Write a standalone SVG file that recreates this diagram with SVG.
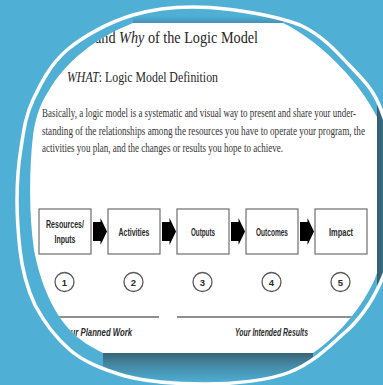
<svg xmlns="http://www.w3.org/2000/svg" width="383" height="385" viewBox="0 0 383 385">
  <defs>
    <path id="ringShape" d="M210,7.5 C237.8,9.3 276.3,15.9 300,25 C323.7,36 338.2,53.5 352,68 C365.8,82.5 375.3,91.7 383,115 C390.7,134.3 400,168.7 400,196 C400,223.3 393.2,252.5 383,277 C372.8,301.5 358,322 342,335 C326,350 310,364 290,372 C268,381 232,384 205,384 C178,384 148,382 125,376 C102,369 84,362 70,350 C56,338 44,322 35,305 C27,288 22,268 20,250 C18,232 17,217 17,200 C17,183 18.3,164.7 21,148 C23.7,131.3 25.3,116.3 33,100 C40.7,83.7 50.3,64.2 67,50 C83.7,35.8 109.2,22.1 133,15 C156.8,7.9 182.2,5.7 210,7.5 Z"/>
    <path id="pageShape" d="M133,23 H283 C315,38 358,78 377,117 V273 C368,300 340,335 313,353 H103 C91,347 79,340 71,331 C58,318 42,292 34,250 C29,215 29,170 33,135 C37,110 43,100 48,92 C65,62 95,38 133,23 Z"/>
    <clipPath id="lens"><use href="#ringShape"/></clipPath>
    <clipPath id="pageClip"><use href="#pageShape"/></clipPath>
    <linearGradient id="shB" x1="0" y1="0" x2="0" y2="1">
      <stop offset="0" stop-color="#3a6374"/>
      <stop offset="0.35" stop-color="#43859f"/>
      <stop offset="1" stop-color="#4fafd5"/>
    </linearGradient>
    <linearGradient id="shR" x1="0" y1="0" x2="1" y2="0">
      <stop offset="0" stop-color="#335d6f"/>
      <stop offset="1" stop-color="#3d7a92"/>
    </linearGradient>
    <linearGradient id="shT" x1="0" y1="0" x2="0" y2="1">
      <stop offset="0" stop-color="#4fafd5"/>
      <stop offset="1" stop-color="#4792b5"/>
    </linearGradient>
    <path id="arr" d="M0,-9.5 H7.5 V-13.5 L14,0 L7.5,13.5 V9.5 H0 Z"/>
  </defs>
  <style>
    .bx{fill:#ffffff;stroke:#6e6e6e;stroke-width:1.2}
    .bl{font-family:"Liberation Sans Narrow","Liberation Sans",Arial,sans-serif;font-weight:bold;font-size:10.5px;fill:#2a2a2a;text-anchor:middle}
    .nc{fill:#ffffff;stroke:#5a5a5a;stroke-width:1.3}
    .num{font-family:"Liberation Sans Narrow","Liberation Sans",Arial,sans-serif;font-weight:bold;font-size:9.5px;fill:#2a2a2a;text-anchor:middle}
    .ser{font-family:"Liberation Serif","Times New Roman",serif;fill:#262626}
    .para{font-size:11.5px;fill:#353535}
    .arrow{fill:#000000}
    .rule{stroke:#6a6a6a;stroke-width:1.5;fill:none}
    .foot{font-family:"Liberation Sans Narrow","Liberation Sans",Arial,sans-serif;font-weight:bold;font-style:italic;font-size:10px;fill:#2a2a2a}
  </style>
  <rect x="0" y="0" width="383" height="385" fill="#4fafd5"/>
  <g clip-path="url(#lens)">
    <rect x="133" y="16" width="150" height="7" fill="url(#shT)"/>
    <rect x="103" y="353" width="210" height="30" fill="url(#shB)"/>
    <rect x="377" y="100" width="10" height="253" fill="url(#shR)"/>
    <use href="#pageShape" fill="#ffffff"/>
  </g>
  <g clip-path="url(#pageClip)">
    <g id="header">
      <text class="ser" x="95" y="43" font-size="17" textLength="163" lengthAdjust="spacingAndGlyphs">and <tspan font-style="italic">Why</tspan> of the Logic Model</text>
      <text class="ser" x="67" y="82" font-size="15" textLength="151" lengthAdjust="spacingAndGlyphs"><tspan font-style="italic">WHAT</tspan>: Logic Model Definition</text>
      <text class="ser para" x="42" y="117" textLength="314" lengthAdjust="spacingAndGlyphs">Basically, a logic model is a systematic and visual way to present and share your under-</text>
      <text class="ser para" x="42" y="134.5" textLength="323" lengthAdjust="spacingAndGlyphs">standing of the relationships among the resources you have to operate your program, the</text>
      <text class="ser para" x="42" y="152" textLength="241" lengthAdjust="spacingAndGlyphs">activities you plan, and the changes or results you hope to achieve.</text>
    </g>
    <g id="connectors">
      <use href="#arr" class="arrow" x="93" y="231.5"/>
      <use href="#arr" class="arrow" x="162" y="231.5"/>
      <use href="#arr" class="arrow" x="231" y="231.5"/>
      <use href="#arr" class="arrow" x="300" y="231.5"/>
    </g>
    <g id="node-resources">
      <rect class="bx" x="39" y="209" width="52" height="45"/>
      <text class="bl" x="65" y="228" textLength="38" lengthAdjust="spacingAndGlyphs">Resources/</text>
      <text class="bl" x="65" y="243" textLength="21" lengthAdjust="spacingAndGlyphs">Inputs</text>
      <circle class="nc" cx="64.5" cy="282" r="9.5"/>
      <text class="num" x="64.5" y="285.5">1</text>
    </g>
    <g id="node-activities">
      <rect class="bx" x="108" y="209" width="52" height="45"/>
      <text class="bl" x="134" y="235.5" textLength="31" lengthAdjust="spacingAndGlyphs">Activities</text>
      <circle class="nc" cx="133.5" cy="282" r="9.5"/>
      <text class="num" x="133.5" y="285.5">2</text>
    </g>
    <g id="node-outputs">
      <rect class="bx" x="177" y="209" width="52" height="45"/>
      <text class="bl" x="203" y="235.5" textLength="24" lengthAdjust="spacingAndGlyphs">Outputs</text>
      <circle class="nc" cx="202.5" cy="282" r="9.5"/>
      <text class="num" x="202.5" y="285.5">3</text>
    </g>
    <g id="node-outcomes">
      <rect class="bx" x="246" y="209" width="52" height="45"/>
      <text class="bl" x="272" y="235.5" textLength="32" lengthAdjust="spacingAndGlyphs">Outcomes</text>
      <circle class="nc" cx="271.5" cy="282" r="9.5"/>
      <text class="num" x="271.5" y="285.5">4</text>
    </g>
    <g id="node-impact">
      <rect class="bx" x="315" y="209" width="52" height="45"/>
      <text class="bl" x="341" y="235.5" textLength="24" lengthAdjust="spacingAndGlyphs">Impact</text>
      <circle class="nc" cx="340.5" cy="282" r="9.5"/>
      <text class="num" x="340.5" y="285.5">5</text>
    </g>
    <g id="footer">
      <line class="rule" x1="39" y1="317" x2="159" y2="317"/>
      <line class="rule" x1="177" y1="317" x2="367" y2="317"/>
      <text class="foot" x="61" y="336" textLength="71" lengthAdjust="spacingAndGlyphs">Your Planned Work</text>
      <text class="foot" x="235" y="336" textLength="73" lengthAdjust="spacingAndGlyphs">Your Intended Results</text>
    </g>
  </g>
  <use href="#ringShape" fill="none" stroke="#ffffff" stroke-width="3.5"/>
</svg>
